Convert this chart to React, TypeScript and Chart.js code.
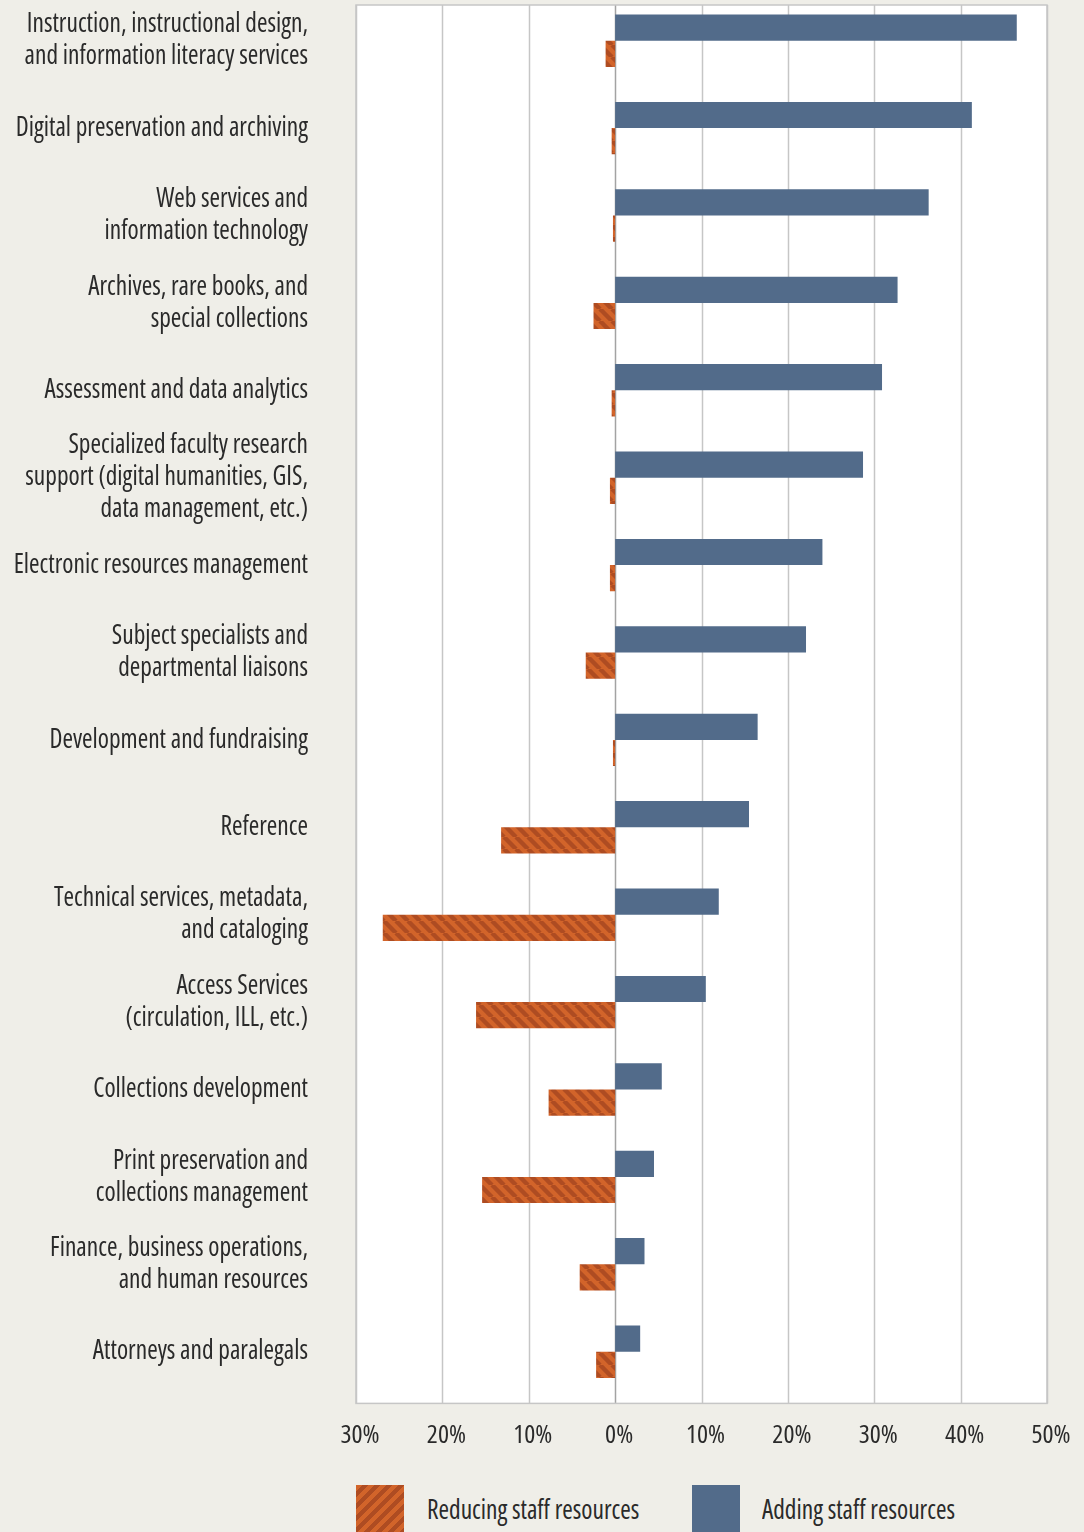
import React, { useEffect, useRef } from "react";
import { Chart, registerables } from "chart.js";

Chart.register(...registerables);

const categories: (string | string[])[] = [
  ["Instruction, instructional design,", "and information literacy services"],
  "Digital preservation and archiving",
  ["Web services and", "information technology"],
  ["Archives, rare books, and", "special collections"],
  "Assessment and data analytics",
  ["Specialized faculty research", "support (digital humanities, GIS,", "data management, etc.)"],
  "Electronic resources management",
  ["Subject specialists and", "departmental liaisons"],
  "Development and fundraising",
  "Reference",
  ["Technical services, metadata,", "and cataloging"],
  ["Access Services", "(circulation, ILL, etc.)"],
  "Collections development",
  ["Print preservation and", "collections management"],
  ["Finance, business operations,", "and human resources"],
  "Attorneys and paralegals",
];

const addingValues = [46.5, 41.3, 36.3, 32.7, 30.9, 28.7, 24.0, 22.1, 16.5, 15.5, 12.0, 10.5, 5.4, 4.5, 3.4, 2.9];
const reducingValues = [-1.1, -0.4, -0.25, -2.5, -0.4, -0.6, -0.6, -3.4, -0.25, -13.2, -26.9, -16.1, -7.7, -15.4, -4.1, -2.2];

const xTicks = [-30, -20, -10, 0, 10, 20, 30, 40, 50];

const seriesNames = ["Adding staff resources", "Reducing staff resources"];

const BLUE = "#526b8a";
const ORANGE = "#d2642a";
const ORANGE_DARK = "#ae4c22";
const BG = "#efeee8";
const TEXT = "#2a2a2a";
const FONT_FAMILY = "'Open Sans', sans-serif";
const STRETCH = "condensed";
const FONT_SIZE = 27;
const SQUEEZE = 0.94;

function makePattern(ctx: CanvasRenderingContext2D, forward: boolean): CanvasPattern | string {
  const s = 12;
  const c = document.createElement("canvas");
  c.width = s;
  c.height = s;
  const p = c.getContext("2d");
  if (!p) return ORANGE;
  p.fillStyle = ORANGE;
  p.fillRect(0, 0, s, s);
  p.strokeStyle = ORANGE_DARK;
  p.lineWidth = 4.4;
  for (let k = -1; k <= 1; k++) {
    p.beginPath();
    if (forward) {
      p.moveTo(k * s, s);
      p.lineTo(k * s + s, 0);
    } else {
      p.moveTo(k * s, 0);
      p.lineTo(k * s + s, s);
    }
    p.stroke();
  }
  return ctx.createPattern(c, "repeat") || ORANGE;
}

const plotFrame = {
  id: "plotFrame",
  beforeDatasetsDraw(chart: any) {
    const { ctx, chartArea, scales } = chart;
    const shift = 8;
    const top = chartArea.top + shift;
    const bottom = chartArea.bottom + shift;
    ctx.save();
    ctx.fillStyle = "#ffffff";
    ctx.fillRect(chartArea.left, top, chartArea.right - chartArea.left, bottom - top);
    for (const v of xTicks) {
      const x = Math.round(scales.x.getPixelForValue(v)) + 0.5;
      ctx.strokeStyle = v === 0 ? "#a3a3a3" : "#c6c6c6";
      ctx.lineWidth = 1.5;
      ctx.beginPath();
      ctx.moveTo(x, top);
      ctx.lineTo(x, bottom);
      ctx.stroke();
    }
    ctx.strokeStyle = "#c6c6c6";
    ctx.lineWidth = 1.5;
    ctx.strokeRect(chartArea.left, top, chartArea.right - chartArea.left, bottom - top);
    ctx.restore();
  },
};

export default function App() {
  const ref = useRef<HTMLCanvasElement | null>(null);

  useEffect(() => {
    document.body.style.margin = "0";
    document.body.style.background = BG;
    const canvas = ref.current;
    if (!canvas) return;
    const ctx = canvas.getContext("2d");
    if (!ctx) return;
    const pattern = makePattern(ctx, false);
    const font = { family: FONT_FAMILY, size: FONT_SIZE, weight: ("normal " + STRETCH) as any, lineHeight: 32 / FONT_SIZE };

    const chart = new Chart(canvas, {
      type: "bar",
      data: {
        labels: categories,
        datasets: [
          {
            label: seriesNames[0],
            data: addingValues,
            backgroundColor: BLUE,
            borderWidth: 0,
            categoryPercentage: 0.6,
            barPercentage: 1.0,
          },
          {
            label: seriesNames[1],
            data: reducingValues,
            backgroundColor: pattern as any,
            borderWidth: 0,
            categoryPercentage: 0.6,
            barPercentage: 1.0,
          },
        ],
      },
      options: {
        indexAxis: "y",
        responsive: false,
        maintainAspectRatio: false,
        animation: false,
        layout: { padding: { top: 0, right: 37, bottom: 0, left: 0 } },
        plugins: {
          legend: { display: false },
          tooltip: { enabled: false },
        },
        scales: {
          x: {
            type: "linear",
            min: -30,
            max: 50,
            afterBuildTicks(scale: any) {
              scale.ticks = xTicks.map((v) => ({ value: v }));
            },
            afterFit(scale: any) {
              scale.height = 1470 - 1398.4;
              scale.paddingLeft = 0;
              scale.paddingRight = 0;
              if (!scale._shifted) {
                const orig = scale.drawLabels;
                scale._computeLabelArea = () => undefined;
                scale.drawLabels = function (area: any) {
                  const c = this.ctx;
                  c.save();
                  c.translate(4, 0);
                  orig.call(this, area);
                  c.restore();
                };
                scale._shifted = true;
              }
            },
            grid: { display: false, drawTicks: false },
            border: { display: false },
            ticks: {
              color: TEXT,
              font: { ...font, size: 26 },
              padding: 25,
              maxRotation: 0,
              autoSkip: false,
              callback: (v: any) => Math.abs(Number(v)) + "%",
            },
          },
          y: {
            type: "category",
            afterFit(scale: any) {
              scale.width = 356;
              scale.paddingTop = 0;
              scale.paddingBottom = 0;
              if (!scale._squeezed) {
                const orig = scale.drawLabels;
                scale._computeLabelArea = () => undefined;
                scale.drawLabels = function (area: any) {
                  const c = this.ctx;
                  const ax = this.right - 48;
                  c.save();
                  c.translate(ax, 0);
                  c.scale(SQUEEZE, 1);
                  c.translate(-ax, 0);
                  orig.call(this, area);
                  c.restore();
                };
                scale._squeezed = true;
              }
            },
            grid: { display: false, drawTicks: false },
            border: { display: false },
            ticks: {
              color: TEXT,
              font,
              padding: 48,
              autoSkip: false,
            },
          },
        },
      },
      plugins: [plotFrame],
    });
    return () => chart.destroy();
  }, []);

  const stripe = `repeating-linear-gradient(135deg, ${ORANGE} 0px, ${ORANGE} 4.3px, ${ORANGE_DARK} 4.3px, ${ORANGE_DARK} 8.5px)`;
  const labelStyle: React.CSSProperties = {
    position: "absolute",
    top: 1491,
    fontFamily: FONT_FAMILY,
    fontStretch: STRETCH,
    fontSize: FONT_SIZE,
    lineHeight: "36px",
    color: TEXT,
    whiteSpace: "nowrap",
    transform: `scaleX(${SQUEEZE})`,
    transformOrigin: "left center",
  };

  return (
    <div style={{ position: "relative", width: 1084, height: 1532, overflow: "hidden", background: BG }}>
      <canvas ref={ref} width={1084} height={1470} style={{ position: "absolute", left: 0, top: -3, width: 1084, height: 1470 }} />
      <div style={{ position: "absolute", left: 356, top: 1485, width: 48, height: 48, background: stripe }} />
      <div style={{ ...labelStyle, left: 427 }}>{seriesNames[1]}</div>
      <div style={{ position: "absolute", left: 692, top: 1485, width: 48, height: 48, background: BLUE }} />
      <div style={{ ...labelStyle, left: 762 }}>{seriesNames[0]}</div>
    </div>
  );
}
